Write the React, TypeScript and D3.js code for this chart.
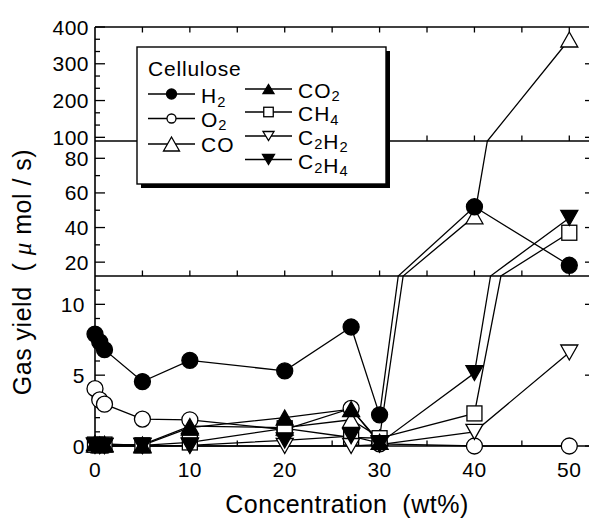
import { useEffect, useRef } from 'react';
import * as d3 from 'd3';

// wt% of cellulose
const concentration = [0, 0.5, 1, 5, 10, 20, 27, 30, 40, 50];

// gas yields (umol/s), null = no point
const h2 = [7.9, 7.35, 6.8, 4.55, 6.05, 5.3, 8.4, 2.2, 52, 18.2];
const o2 = [4.05, 3.25, 2.95, 1.9, 1.85, 1.15, 2.65, 0.15, 0, 0];
const co = [0.1, 0.05, 0.1, 0.1, 1.4, 1.3, 1.85, 0.6, 46.5, 366];
const co2 = [0.2, 0.1, 0.15, 0.05, 1.3, 2.0, 2.6, 0.3, null, null];
const ch4 = [0.1, 0.05, 0.1, 0.05, 0.25, 1.25, 0.6, 0.55, 2.3, 37];
const c2h2 = [0, 0, 0, 0, 0, 0, 0, 0.1, 1.0, 6.6];
const c2h4 = [0.05, 0, 0, 0, 0.05, 0.4, 0.7, 0.2, 5.15, 45.5];

const seriesNames = ['H2', 'O2', 'CO', 'CO2', 'CH4', 'C2H2', 'C2H4'];
const seriesValues = [h2, o2, co, co2, ch4, c2h2, c2h4];
const seriesShapes = ['dot', 'circle', 'triUp', 'triUpFill', 'square', 'triDown', 'triDownFill'];
const legendTitle = 'Cellulose';

const xTickLabels = [0, 10, 20, 30, 40, 50];
const yBreaks = [12, 90];
const yBottomTicks = [0, 5, 10];
const yMiddleTicks = [20, 40, 60, 80];
const yTopTicks = [100, 200, 300, 400];

const FONT = '"Liberation Sans", Arial, Helvetica, sans-serif';

function drawMarker(g, shape, cx, cy, s) {
  const filled = shape === 'dot' || shape.endsWith('Fill');
  const fill = filled ? '#000' : '#fff';
  if (shape === 'dot' || shape === 'circle') {
    g.append('circle').attr('cx', cx).attr('cy', cy).attr('r', s.r)
      .attr('fill', fill).attr('stroke', '#000').attr('stroke-width', 1.3);
  } else if (shape === 'square') {
    g.append('rect').attr('x', cx - s.sq / 2).attr('y', cy - s.sq / 2)
      .attr('width', s.sq).attr('height', s.sq)
      .attr('fill', fill).attr('stroke', '#000').attr('stroke-width', 1.3);
  } else {
    const w = s.tw, h = s.th;
    const up = shape.startsWith('triUp');
    const pts = up
      ? [[cx - w / 2, cy + h / 2], [cx + w / 2, cy + h / 2], [cx, cy - h / 2]]
      : [[cx - w / 2, cy - h / 2], [cx + w / 2, cy - h / 2], [cx, cy + h / 2]];
    g.append('polygon').attr('points', pts.map(p => p.join(',')).join(' '))
      .attr('fill', fill).attr('stroke', '#000').attr('stroke-width', 1.3)
      .attr('stroke-linejoin', 'miter');
  }
}

function subLabel(text, label, size) {
  // digits become subscripts
  label.split(/(\d)/).filter(Boolean).forEach(part => {
    if (/\d/.test(part)) {
      text.append('tspan').attr('font-size', size * 0.7).attr('dy', 3.5).text(part);
      text.append('tspan').attr('font-size', size).attr('dy', -3.5).text('');
    } else {
      text.append('tspan').text(part);
    }
  });
}

function withBreaks(pts) {
  const out = [];
  pts.forEach((p, i) => {
    if (i > 0) {
      const a = pts[i - 1];
      yBreaks
        .filter(b => (a.v - b) * (p.v - b) < 0)
        .map(b => ({ t: (b - a.v) / (p.v - a.v), b }))
        .sort((m, n) => m.t - n.t)
        .forEach(c => out.push({ c: a.c + c.t * (p.c - a.c), v: c.b }));
    }
    out.push(p);
  });
  return out;
}

export default function App() {
  const svgRef = useRef(null);

  useEffect(() => {
    const svg = d3.select(svgRef.current);
    svg.selectAll('*').remove();

    const left = 95, right = 595;
    const x = d3.scaleLinear().domain([0, 50]).range([95, 569.3]);
    // broken axis: three stacked linear panels
    const y = d3.scaleLinear().domain([0, 12, 90, 400]).range([446, 276, 141, 27]);

    const frame = svg.append('g').attr('stroke', '#000').attr('fill', 'none');

    // horizontal borders + x ticks
    [0, 12, 90, 400].forEach(v => {
      const yy = y(v);
      frame.append('line').attr('x1', left).attr('x2', right)
        .attr('y1', yy).attr('y2', yy).attr('stroke-width', 1.6);
      const dir = v === 400 ? 1 : -1;
      d3.range(5, 55, 5).forEach(t => {
        frame.append('line').attr('x1', x(t)).attr('x2', x(t))
          .attr('y1', yy).attr('y2', yy + dir * 5.5).attr('stroke-width', 1.3);
      });
    });

    // vertical axes
    [left, right].forEach(xx => {
      frame.append('line').attr('x1', xx).attr('x2', xx)
        .attr('y1', y(400)).attr('y2', y(0)).attr('stroke-width', 1.6);
    });

    const panels = [
      { major: yBottomTicks, minor: d3.range(0, 12, 1), labelX: 85 },
      { major: yMiddleTicks, minor: d3.range(20, 90, 10), labelX: 89 },
      { major: yTopTicks, minor: d3.range(100, 400, 100 / 3), labelX: 89 },
    ];

    panels.forEach(p => {
      p.minor.forEach(v => {
        const isMajor = p.major.some(m => Math.abs(m - v) < 1e-6);
        const len = isMajor ? 10 : 5;
        frame.append('line').attr('x1', left).attr('x2', left + len)
          .attr('y1', y(v)).attr('y2', y(v)).attr('stroke-width', 1.3);
        frame.append('line').attr('x1', right).attr('x2', right - len)
          .attr('y1', y(v)).attr('y2', y(v)).attr('stroke-width', 1.3);
      });
      p.major.forEach(v => {
        svg.append('text').attr('x', p.labelX).attr('y', y(v)).attr('dy', '0.36em')
          .attr('text-anchor', 'end').attr('font-family', FONT).attr('font-size', 21)
          .attr('letter-spacing', 0.5).attr('fill', '#000').text(v);
      });
    });
    // the 400 tick on top
    frame.append('line').attr('x1', left).attr('x2', left + 10)
      .attr('y1', y(400)).attr('y2', y(400)).attr('stroke-width', 1.3);

    xTickLabels.forEach(v => {
      svg.append('text').attr('x', x(v)).attr('y', 477)
        .attr('text-anchor', 'middle').attr('font-family', FONT).attr('font-size', 21)
        .attr('letter-spacing', 0.5).attr('fill', '#000').text(v);
    });

    // axis titles
    svg.append('text').attr('x', 347).attr('y', 513)
      .attr('text-anchor', 'middle').attr('font-family', FONT).attr('font-size', 25)
      .attr('letter-spacing', 0.5).attr('xml:space', 'preserve').style('white-space', 'pre')
      .text('Concentration  (wt%)');

    const yt = svg.append('text').attr('transform', 'translate(31,272) rotate(-90)')
      .attr('text-anchor', 'middle').attr('font-family', FONT).attr('font-size', 25)
      .attr('letter-spacing', 0.5).style('white-space', 'pre');
    yt.append('tspan').text('Gas yield  ( ');
    yt.append('tspan').attr('font-style', 'italic').attr('font-family', '"Liberation Serif", serif').text('μ');
    yt.append('tspan').text(' mol / s)');

    // data
    const markerSize = { r: 8, sq: 15, tw: 17, th: 15 };
    const line = d3.line().x(d => x(d.c)).y(d => y(d.v));
    const data = seriesValues.map(vals =>
      concentration.map((c, i) => ({ c, v: vals[i] })).filter(d => d.v != null)
    );

    const plot = svg.append('g');
    data.forEach(pts => {
      plot.append('path').datum(withBreaks(pts)).attr('d', line)
        .attr('fill', 'none').attr('stroke', '#000').attr('stroke-width', 1.3);
    });
    const order = [1, 2, 4, 5, 3, 6, 0];
    order.forEach(si => {
      data[si].forEach(d => drawMarker(plot, seriesShapes[si], x(d.c), y(d.v), markerSize));
    });

    // legend
    const lg = svg.append('g');
    lg.append('rect').attr('x', 141).attr('y', 51).attr('width', 249).attr('height', 137).attr('fill', '#000');
    lg.append('rect').attr('x', 137).attr('y', 47).attr('width', 249).attr('height', 137)
      .attr('fill', '#fff').attr('stroke', '#000').attr('stroke-width', 1.4);
    lg.append('text').attr('x', 148).attr('y', 76).attr('font-family', FONT).attr('font-size', 21)
      .attr('letter-spacing', 0.8).text(legendTitle);

    const legendRows = [
      { x0: 148, y: 94, dy: 9 }, { x0: 148, y: 118.5, dy: 8 }, { x0: 148, y: 144, dy: 8 },
      { x0: 245, y: 89, dy: 8.5 }, { x0: 245, y: 112, dy: 9 }, { x0: 245, y: 136, dy: 9 }, { x0: 245, y: 159.5, dy: 9.5 },
    ];
    const legendSizes = [
      { r: 5 }, { r: 4.5 }, { tw: 16, th: 14 }, { tw: 11, th: 9 },
      { sq: 9.5 }, { tw: 11, th: 9 }, { tw: 12, th: 10 },
    ];
    seriesNames.forEach((name, i) => {
      const row = legendRows[i];
      lg.append('line').attr('x1', row.x0).attr('x2', row.x0 + 47)
        .attr('y1', row.y).attr('y2', row.y).attr('stroke', '#000').attr('stroke-width', 1.3);
      drawMarker(lg, seriesShapes[i], row.x0 + 23.5, row.y, legendSizes[i]);
      const t = lg.append('text').attr('x', row.x0 + 53).attr('y', row.y + row.dy)
        .attr('font-family', FONT).attr('font-size', 21).attr('letter-spacing', 1);
      subLabel(t, name, 21);
    });
  }, []);

  return (
    <svg ref={svgRef} width={589} height={519}
      style={{ position: 'absolute', left: 0, top: 0, display: 'block', background: '#fff' }} />
  );
}
